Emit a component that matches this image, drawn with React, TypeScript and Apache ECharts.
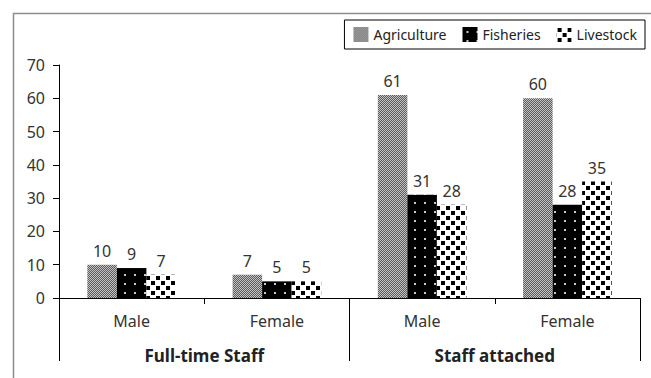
import React, { useEffect, useRef } from "react";
import * as echarts from "echarts";

const categories = ["Male", "Female", "Male", "Female"];
const groups = ["Full-time Staff", "Staff attached"];
const agriculture = [10, 7, 61, 60];
const fisheries = [9, 5, 31, 28];
const livestock = [7, 5, 28, 35];
const yTicks = { min: 0, max: 70, interval: 10 };

function makeTile(w: number, h: number, draw: (ctx: CanvasRenderingContext2D) => void) {
  const c = document.createElement("canvas");
  c.width = w;
  c.height = h;
  const ctx = c.getContext("2d")!;
  draw(ctx);
  return { image: c, repeat: "repeat", imageWidth: w, imageHeight: h } as any;
}

export default function App() {
  const ref = useRef<HTMLDivElement>(null);
  useEffect(() => {
    if (!ref.current) return;
    const chart = echarts.init(ref.current, null, { renderer: "svg" });

    const agriPattern = makeTile(2, 2, (ctx) => {
      ctx.fillStyle = "#5a5a5a";
      ctx.fillRect(0, 0, 2, 2);
      ctx.fillStyle = "#c4c4c4";
      ctx.fillRect(0, 0, 1, 1);
      ctx.fillRect(1, 1, 1, 1);
    });
    const fishPattern = makeTile(10, 9, (ctx) => {
      ctx.fillStyle = "#000000";
      ctx.fillRect(0, 0, 10, 9);
      ctx.fillStyle = "#c8c8c8";
      ctx.fillRect(4, 4, 2, 2);
    });
    const livePattern = makeTile(10, 10, (ctx) => {
      ctx.fillStyle = "#ffffff";
      ctx.fillRect(0, 0, 10, 10);
      ctx.fillStyle = "#000000";
      ctx.fillRect(1, 1, 4, 4);
      ctx.fillRect(6, 6, 4, 4);
    });

    const labelStyle = {
      show: true,
      position: "top" as const,
      distance: 6,
      fontSize: 16,
      color: "#333",
      fontFamily: "Noto Sans",
    };

    const mkSeries = (name: string, data: number[], color: any) => ({
      name,
      type: "bar" as const,
      data,
      barGap: "0%",
      barCategoryGap: "39%",
      itemStyle: { color },
      label: labelStyle,
      xAxisIndex: 0,
      yAxisIndex: 0,
    });

    chart.setOption({
      animation: false,
      textStyle: { fontFamily: "Noto Sans" },
      graphic: [
        {
          type: "rect",
          left: 11,
          top: 11,
          shape: { width: 700, height: 420 },
          style: { fill: "none", stroke: "#8c8c8c", lineWidth: 1.5 },
          silent: true,
        },
      ],
      legend: {
        right: 6,
        top: 20,
        orient: "horizontal",
        icon: "rect",
        itemWidth: 15,
        itemHeight: 15,
        itemGap: 16,
        padding: [7, 8, 7, 9],
        borderColor: "#000",
        borderWidth: 1,
        textStyle: { fontSize: 14, color: "#222", fontFamily: "Noto Sans" },
        data: ["Agriculture", "Fisheries", "Livestock"],
      },
      grid: { left: 59, right: 11, top: 65, bottom: 80, containLabel: false },
      xAxis: [
        {
          type: "category",
          data: categories,
          position: "bottom",
          axisLine: { show: true, lineStyle: { color: "#000", width: 1 } },
          axisTick: { show: true, length: 6, interval: 0, lineStyle: { color: "#000" } },
          axisLabel: { margin: 15, fontSize: 16, color: "#333", fontFamily: "Noto Sans", interval: 0 },
        },
        {
          type: "category",
          data: groups,
          position: "bottom",
          axisLine: { show: false },
          axisTick: { show: true, length: 63, interval: 0, lineStyle: { color: "#000" } },
          axisLabel: {
            margin: 49,
            fontSize: 17,
            fontWeight: "bold",
            color: "#222",
            fontFamily: "Noto Sans",
            interval: 0,
          },
        },
      ],
      yAxis: {
        type: "value",
        min: yTicks.min,
        max: yTicks.max,
        interval: yTicks.interval,
        axisLine: { show: true, lineStyle: { color: "#000", width: 1 } },
        axisTick: { show: true, length: 6, lineStyle: { color: "#000" } },
        splitLine: { show: false },
        axisLabel: { margin: 14, fontSize: 16, color: "#333", fontFamily: "Noto Sans" },
      },
      series: [
        mkSeries("Agriculture", agriculture, agriPattern),
        mkSeries("Fisheries", fisheries, fishPattern),
        mkSeries("Livestock", livestock, livePattern),
      ],
    });
    return () => chart.dispose();
  }, []);
  return (
    <div
      ref={ref}
      style={{ position: "fixed", left: 0, top: 0, width: 651, height: 378, background: "#fff" }}
    />
  );
}
